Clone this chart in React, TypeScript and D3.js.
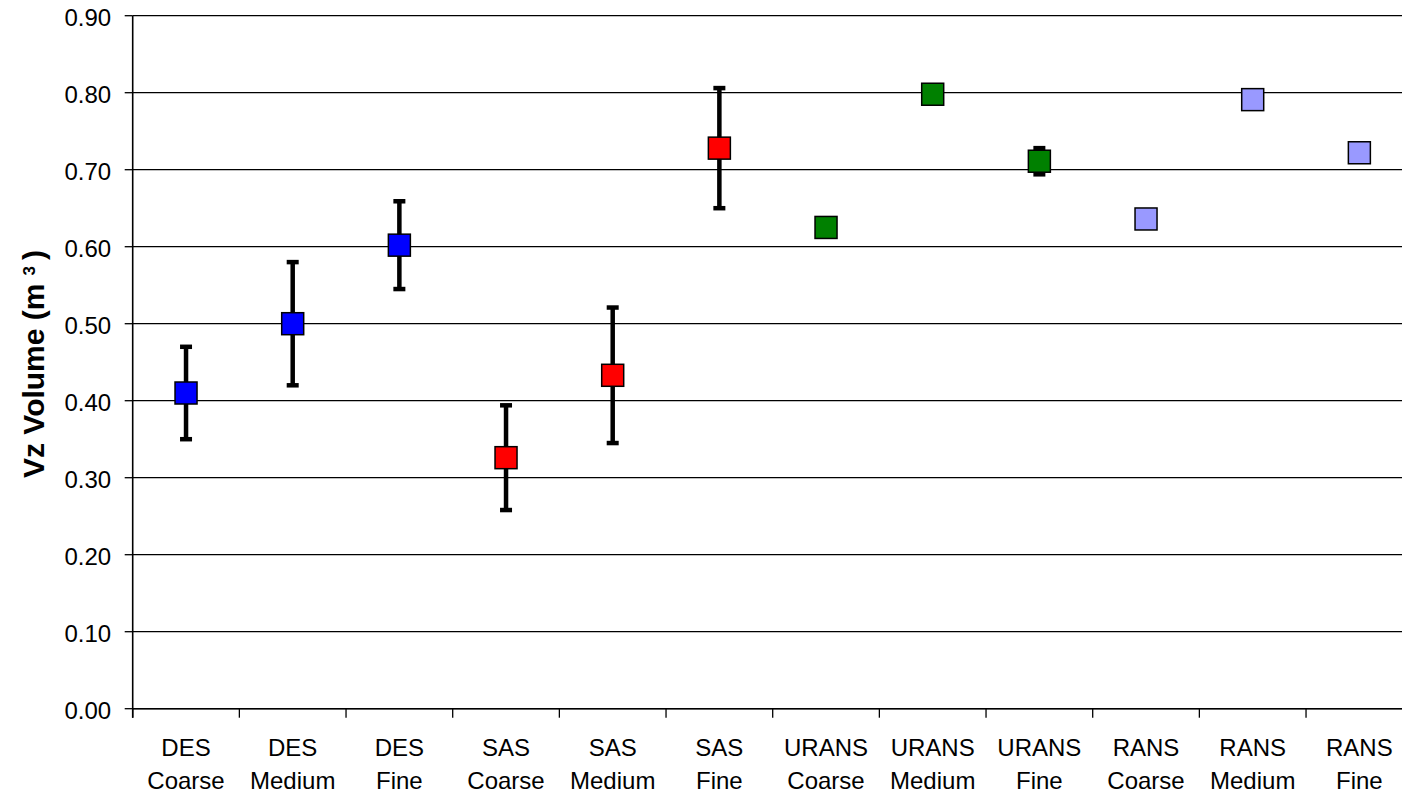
import React from "react";
import * as d3 from "d3";

// Simulation method and grid resolution for each point
const methods = ["DES", "DES", "DES", "SAS", "SAS", "SAS", "URANS", "URANS", "URANS", "RANS", "RANS", "RANS"];
const grids = ["Coarse", "Medium", "Fine", "Coarse", "Medium", "Fine", "Coarse", "Medium", "Fine", "Coarse", "Medium", "Fine"];

// Vortex volume (m^3) and its ± spread
const volumes = [0.41, 0.5, 0.602, 0.326, 0.433, 0.728, 0.625, 0.798, 0.711, 0.636, 0.791, 0.722];
const spreads = [0.06, 0.08, 0.057, 0.068, 0.088, 0.078, 0, 0, 0.017, 0, 0, 0];

const yTicks = [0, 0.1, 0.2, 0.3, 0.4, 0.5, 0.6, 0.7, 0.8, 0.9];

const methodColor: Record<string, string> = {
  DES: "#0000FF",
  SAS: "#FF0000",
  URANS: "#008000",
  RANS: "#9999FF",
};

const W = 1402;
const H = 794;
const left = 132.7;
const top = 15.7;
const bottom = 708.7;
const plotRight = 1412.7;
const font = "'Liberation Sans', Arial, sans-serif";

export default function App() {
  const keys = methods.map((m, i) => `${m} ${grids[i]}`);
  const x = d3.scaleBand<string>().domain(keys).range([left, plotRight]).padding(0);
  const y = d3.scaleLinear().domain([0, 0.9]).range([bottom, top]);
  const cx = (i: number) => (x(keys[i]) as number) + x.bandwidth() / 2;
  const boundaries = keys.map((k) => x(k) as number).concat([plotRight]);

  const marker = 22;
  const capHalf = 6;

  return (
    <svg
      width={W}
      height={H}
      style={{ position: "absolute", left: 0, top: 0, overflow: "hidden", background: "#fff" }}
      fontFamily={font}
    >
      <rect x={0} y={0} width={W} height={H} fill="#fff" />
      {/* horizontal gridlines */}
      {yTicks.map((t) => (
        <line key={`g${t}`} x1={left} x2={plotRight} y1={y(t)} y2={y(t)} stroke="#000" strokeWidth={1.3} />
      ))}
      {/* y axis */}
      <line x1={left} x2={left} y1={top} y2={bottom + 9} stroke="#000" strokeWidth={1.6} />
      {yTicks.map((t) => (
        <g key={`yt${t}`}>
          <line x1={left - 8} x2={left} y1={y(t)} y2={y(t)} stroke="#000" strokeWidth={1.3} />
          <text x={left - 21.5} y={y(t) + 10.3} textAnchor="end" fontSize={24} fill="#000">
            {d3.format(".2f")(t)}
          </text>
        </g>
      ))}
      {/* x axis */}
      <line x1={left} x2={plotRight} y1={bottom} y2={bottom} stroke="#000" strokeWidth={1.6} />
      {boundaries.map((b, i) => (
        <line key={`xt${i}`} x1={b} x2={b} y1={bottom} y2={bottom + 9} stroke="#000" strokeWidth={1.3} />
      ))}
      {keys.map((k, i) => (
        <text key={`xl${k}`} textAnchor="middle" fontSize={24} fill="#000">
          <tspan x={cx(i)} y={755.7}>{methods[i]}</tspan>
          <tspan x={cx(i)} y={789}>{grids[i]}</tspan>
        </text>
      ))}
      {/* y axis title */}
      <text
        transform="translate(44,478) rotate(-90)"
        textAnchor="start"
        fontSize={30}
        fontWeight="bold"
        fill="#000"
      >
        Vz Volume (m
        <tspan dx={8} dy={-9} fontSize={17}>3</tspan>
        <tspan dx={6} dy={9}>)</tspan>
      </text>
      {/* error bars */}
      {volumes.map((v, i) =>
        spreads[i] > 0 ? (
          <g key={`e${i}`} stroke="#000" strokeWidth={4.5}>
            <line x1={cx(i)} x2={cx(i)} y1={y(v + spreads[i])} y2={y(v - spreads[i])} />
            <line x1={cx(i) - capHalf} x2={cx(i) + capHalf} y1={y(v + spreads[i])} y2={y(v + spreads[i])} />
            <line x1={cx(i) - capHalf} x2={cx(i) + capHalf} y1={y(v - spreads[i])} y2={y(v - spreads[i])} />
          </g>
        ) : null
      )}
      {/* markers */}
      {volumes.map((v, i) => (
        <rect
          key={`m${i}`}
          x={cx(i) - marker / 2}
          y={y(v) - marker / 2}
          width={marker}
          height={marker}
          fill={methodColor[methods[i]]}
          stroke="#000"
          strokeWidth={1.5}
        />
      ))}
    </svg>
  );
}
